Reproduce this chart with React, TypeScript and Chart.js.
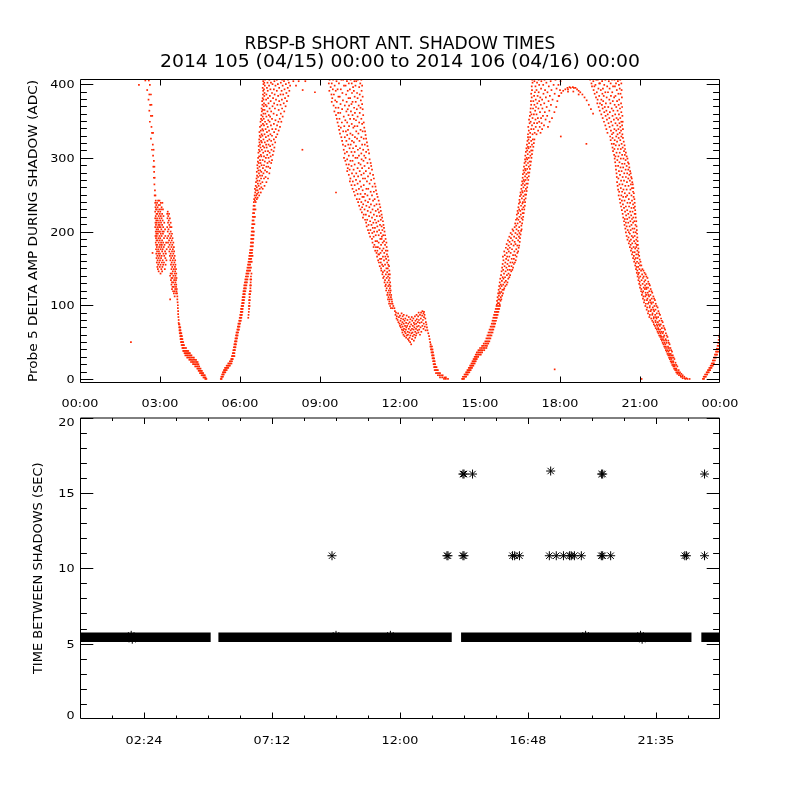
import React, { useEffect, useRef } from 'react';
import { Chart, registerables } from 'chart.js';

Chart.register(...registerables);

// ---------------- text ----------------
const TITLE_LINE_1 = 'RBSP-B SHORT ANT. SHADOW TIMES';
const TITLE_LINE_2 = '2014 105 (04/15) 00:00 to 2014 106 (04/16) 00:00';
const TOP_Y_TITLE = 'Probe 5 DELTA AMP DURING SHADOW (ADC)';
const BOTTOM_Y_TITLE = 'TIME BETWEEN SHADOWS (SEC)';

// ---------------- axes ----------------
const TOP_X_TICKS = [0, 3, 6, 9, 12, 15, 18, 21, 24];
const TOP_X_LABELS = ['00:00', '03:00', '06:00', '09:00', '12:00', '15:00', '18:00', '21:00', '00:00'];
const TOP_Y_TICKS = [0, 100, 200, 300, 400];
const TOP_Y_LABELS = ['0', '100', '200', '300', '400'];
const BOTTOM_X_TICKS = [2.4, 7.2, 12, 16.8, 21.6];
const BOTTOM_X_LABELS = ['02:24', '07:12', '12:00', '16:48', '21:35'];
const BOTTOM_Y_TICKS = [0, 5, 10, 15, 20];
const BOTTOM_Y_LABELS = ['0', '5', '10', '15', '20'];

// ---------------- top panel ----------------
// each row: [ADC value, hour, hour, ...] — the dots seen at that amplitude
const arcA: number[][] = [
  [50, 1.91], [171, 2.72],
  [405, 2.45, 2.58], [399, 2.21, 2.62], [392, 2.52], [386, 2.6, 2.66], [379, 2.57], [372, 2.63, 2.68], [364, 2.6],
  [357, 2.66, 2.71], [349, 2.62], [342, 2.68], [334, 2.7, 2.74], [326, 2.66], [318, 2.73], [311, 2.7, 2.76],
  [303, 2.74], [296, 2.77], [288, 2.75, 2.79], [281, 2.78], [273, 2.77, 2.8], [264, 2.79], [256, 2.81], [249, 2.8, 2.83],
  [242, 2.84, 2.93, 2.98], [239, 2.82, 2.89, 3.03, 3.09], [236, 2.86, 2.95, 3.0], [233, 2.83, 2.91, 3.06],
  [230, 2.85, 2.88, 2.97, 3.04, 3.11], [227, 2.82, 2.93, 3.01, 3.29], [224, 2.87, 2.9, 2.99, 3.08, 3.27, 3.34],
  [221, 2.84, 2.95, 3.03, 3.13, 3.31], [218, 2.82, 2.89, 2.98, 3.06, 3.28, 3.37], [215, 2.86, 2.92, 3.01, 3.1, 3.33],
  [212, 2.83, 2.88, 2.96, 3.04, 3.16, 3.3, 3.4], [209, 2.85, 2.94, 2.99, 3.08, 3.35],
  [206, 2.82, 2.9, 2.97, 3.02, 3.12, 3.27, 3.38, 3.43], [203, 2.87, 2.93, 3.05, 3.19, 3.32],
  [200, 2.84, 2.89, 2.96, 3.0, 3.09, 3.14, 3.29, 3.4], [197, 2.86, 2.92, 3.03, 3.11, 3.36, 3.45],
  [194, 2.83, 2.88, 2.98, 3.06, 3.2, 3.31, 3.42], [191, 2.85, 2.94, 3.01, 3.15, 3.27, 3.38, 3.47],
  [188, 2.87, 2.91, 2.99, 3.08, 3.34, 3.44], [185, 2.84, 2.95, 3.04, 3.12, 3.23, 3.3, 3.4, 3.5],
  [182, 2.86, 2.9, 3.0, 3.07, 3.17, 3.36, 3.46], [179, 2.88, 2.97, 3.05, 3.14, 3.32, 3.43, 3.52],
  [176, 2.85, 2.93, 3.02, 3.1, 3.25, 3.38, 3.48], [173, 2.89, 2.96, 3.08, 3.19, 3.35, 3.45, 3.53],
  [170, 2.86, 2.94, 3.0, 3.13, 3.22, 3.4, 3.5], [167, 2.9, 2.98, 3.06, 3.16, 3.37, 3.46, 3.55],
  [164, 2.87, 2.95, 3.04, 3.2, 3.42, 3.52], [161, 2.91, 3.0, 3.1, 3.24, 3.39, 3.48, 3.57],
  [158, 2.88, 2.97, 3.07, 3.15, 3.44, 3.54], [155, 2.93, 3.02, 3.12, 3.21, 3.41, 3.5, 3.58],
  [152, 2.9, 2.99, 3.09, 3.46, 3.56], [149, 2.92, 3.05, 3.18, 3.43, 3.52, 3.6], [146, 2.95, 3.08, 3.48, 3.57],
  [143, 3.02, 3.4, 3.45, 3.55, 3.61], [140, 3.38, 3.5, 3.58], [137, 3.43, 3.47, 3.56, 3.62], [134, 3.41, 3.53, 3.6],
  [131, 3.45, 3.5, 3.58], [128, 3.43, 3.55, 3.61], [125, 3.47, 3.52, 3.6], [122, 3.45, 3.57, 3.63],
  [119, 3.49, 3.55, 3.62], [116, 3.52, 3.6, 3.64], [112, 3.55, 3.65], [108, 3.38, 3.65],
  [104, 3.66], [100, 3.67], [96, 3.67], [92, 3.68], [88, 3.68], [84, 3.69], [80, 3.7], [76, 3.7],
  [74, 3.71, 3.73], [70, 3.72, 3.74, 3.76], [66, 3.73, 3.75, 3.77], [62, 3.74, 3.76, 3.78, 3.8],
  [58, 3.76, 3.78, 3.8, 3.82], [54, 3.77, 3.79, 3.82, 3.84], [50, 3.79, 3.81, 3.84, 3.87], [46, 3.81, 3.84, 3.87, 3.9],
  [42, 3.84, 3.87, 3.9, 3.94, 3.98], [38, 3.87, 3.9, 3.94, 3.98, 4.02, 4.06], [35, 3.92, 3.96, 4.0, 4.04, 4.08, 4.12],
  [32, 3.95, 4.0, 4.04, 4.09, 4.14, 4.18], [29, 4.02, 4.07, 4.12, 4.17, 4.22, 4.27],
  [26, 4.1, 4.15, 4.2, 4.25, 4.3, 4.35], [23, 4.16, 4.21, 4.26, 4.31, 4.36, 4.41], [20, 4.24, 4.29, 4.34, 4.39, 4.44],
  [17, 4.32, 4.37, 4.42, 4.47], [14, 4.4, 4.44, 4.48, 4.52], [11, 4.45, 4.49, 4.53, 4.57], [8, 4.5, 4.54, 4.58, 4.62],
  [5, 4.56, 4.6, 4.64, 4.68], [2, 4.63, 4.67, 4.71], [0, 4.7, 4.74],
];

const arcB: number[][] = [
  [0, 5.28, 5.31], [3, 5.3, 5.33, 5.36], [6, 5.33, 5.36, 5.39], [9, 5.36, 5.39, 5.42, 5.45], [12, 5.4, 5.43, 5.46, 5.5],
  [15, 5.44, 5.48, 5.52, 5.56], [18, 5.5, 5.54, 5.58, 5.62], [21, 5.56, 5.6, 5.64, 5.68], [24, 5.62, 5.66, 5.7],
  [27, 5.67, 5.7, 5.73], [31, 5.7, 5.73, 5.76, 5.79], [35, 5.73, 5.76, 5.79], [39, 5.75, 5.78, 5.81],
  [43, 5.77, 5.8, 5.83], [47, 5.79, 5.82, 5.85], [51, 5.81, 5.84, 5.87], [55, 5.83, 5.86, 5.89], [59, 5.85, 5.88, 5.91],
  [63, 5.87, 5.9, 5.93], [67, 5.9, 5.93, 5.96], [71, 5.92, 5.95, 5.98], [75, 5.94, 5.97, 6.0],
  [79, 5.97, 6.0, 6.03], [83, 5.99, 6.02, 6.05, 6.31], [87, 6.01, 6.04, 6.07, 6.32], [91, 6.03, 6.06, 6.09, 6.33],
  [95, 6.04, 6.07, 6.1, 6.34], [99, 6.06, 6.09, 6.12, 6.33, 6.36], [103, 6.08, 6.11, 6.14, 6.35],
  [107, 6.09, 6.12, 6.15, 6.34, 6.37], [111, 6.1, 6.13, 6.17, 6.36], [115, 6.12, 6.15, 6.18, 6.35, 6.38],
  [119, 6.13, 6.16, 6.2, 6.37, 6.4], [123, 6.15, 6.18, 6.22, 6.39], [127, 6.16, 6.2, 6.24, 6.38, 6.41],
  [131, 6.18, 6.22, 6.26, 6.4], [135, 6.2, 6.24, 6.28, 6.39, 6.42], [139, 6.22, 6.26, 6.3, 6.41],
  [143, 6.24, 6.28, 6.32, 6.43], [147, 6.26, 6.3, 6.34, 6.38],
  [151, 6.28, 6.32, 6.36, 6.41], [155, 6.3, 6.34, 6.38], [159, 6.32, 6.36, 6.4, 6.44], [163, 6.34, 6.38, 6.42],
  [167, 6.35, 6.39, 6.43, 6.47], [171, 6.37, 6.41, 6.45], [175, 6.38, 6.42, 6.46], [180, 6.4, 6.44, 6.48],
  [185, 6.41, 6.45, 6.49], [190, 6.42, 6.46, 6.5], [195, 6.43, 6.47, 6.51], [200, 6.44, 6.48, 6.52], [205, 6.45, 6.49],
  [210, 6.46, 6.5, 6.54], [215, 6.47, 6.51], [220, 6.48, 6.52, 6.56], [225, 6.49, 6.53], [230, 6.5, 6.54, 6.58],
  [235, 6.51, 6.55],
  [240, 6.52, 6.59], [242, 6.56], [244, 6.53, 6.63], [246, 6.58, 6.66], [249, 6.55, 6.61, 6.72], [251, 6.64],
  [253, 6.57, 6.69, 6.78], [256, 6.6, 6.66], [258, 6.56, 6.74, 6.85], [260, 6.63, 6.8], [262, 6.59, 6.7, 6.92],
  [265, 6.67, 6.77], [267, 6.6, 6.84, 6.99], [269, 6.65, 6.73], [272, 6.62, 6.79, 6.9, 7.05], [274, 6.68, 6.96],
  [276, 6.64, 6.75, 6.83], [279, 6.71, 6.88, 7.1], [281, 6.63, 6.8, 7.01], [283, 6.69, 6.76, 6.94],
  [286, 6.66, 6.86, 7.13], [288, 6.73, 6.99, 7.06], [290, 6.65, 6.81, 6.9], [293, 6.7, 6.77, 7.03, 7.17],
  [295, 6.67, 6.93, 7.1], [297, 6.75, 6.85, 7.2], [300, 6.68, 6.97, 7.07], [302, 6.72, 6.8, 6.9, 7.15],
  [304, 6.78, 7.02, 7.23], [307, 6.69, 6.87, 7.11], [309, 6.74, 6.95, 7.05, 7.26], [311, 6.71, 6.82, 7.18],
  [314, 6.77, 6.91, 7.0, 7.29], [316, 6.7, 6.86, 7.13], [318, 6.75, 6.98, 7.07, 7.22], [321, 6.73, 6.82, 6.93, 7.32],
  [323, 6.79, 7.03, 7.17], [325, 6.72, 6.88, 7.1, 7.27], [328, 6.77, 6.97, 7.35], [330, 6.74, 6.84, 7.06, 7.2],
  [332, 6.81, 6.92, 7.14, 7.4], [335, 6.73, 7.01, 7.28], [337, 6.78, 6.87, 7.09, 7.45], [339, 6.84, 6.96, 7.21, 7.34],
  [342, 6.75, 7.04, 7.5], [344, 6.8, 6.9, 7.16, 7.39], [346, 6.86, 7.0, 7.27], [349, 6.77, 6.94, 7.11, 7.44, 7.55],
  [351, 6.83, 7.06, 7.33], [353, 6.79, 6.89, 7.2, 7.49], [356, 6.85, 6.99, 7.13, 7.6], [358, 6.8, 7.08, 7.38],
  [360, 6.88, 6.95, 7.26, 7.53], [363, 6.82, 7.03, 7.17, 7.66], [365, 6.86, 6.92, 7.45], [367, 6.81, 7.11, 7.31, 7.58],
  [370, 6.89, 7.0, 7.22, 7.71], [372, 6.84, 6.96, 7.4, 7.52], [374, 6.9, 7.07, 7.28, 7.64], [377, 6.83, 7.15, 7.47, 7.76],
  [379, 6.88, 6.98, 7.35, 7.57], [381, 6.85, 7.05, 7.24, 7.69], [384, 6.91, 7.12, 7.43, 7.81],
  [386, 6.86, 6.99, 7.3, 7.52, 7.62], [388, 6.92, 7.2, 7.74], [391, 6.87, 7.04, 7.38, 7.56, 7.85],
  [393, 6.9, 7.14, 7.27, 7.67], [395, 6.85, 7.01, 7.47, 7.79], [398, 6.93, 7.09, 7.33, 7.6, 7.88],
  [400, 6.88, 7.22, 7.42, 7.72], [402, 6.91, 7.03, 7.16, 7.53, 7.83], [404, 6.87, 7.29, 7.65],
  [406, 6.94, 7.1, 7.38, 7.58, 7.8],
  [404, 8.0, 8.2, 8.45], [398, 8.1], [392, 8.35], [311, 8.34], [389, 8.81], [253, 9.6],
];

const arcC: number[][] = [
  [406, 9.36, 9.49, 9.8, 9.87, 10.15, 10.42, 10.55], [404, 9.62, 10.01, 10.29, 10.36],
  [401, 9.33, 9.44, 9.71, 10.08, 10.19, 10.51], [398, 9.55, 9.9, 9.96, 10.33, 10.58], [396, 9.4, 10.24, 10.47],
  [393, 9.48, 9.66, 9.78, 10.12], [391, 9.35, 9.59, 10.04, 10.27, 10.56], [388, 9.84, 10.2, 10.39],
  [386, 9.43, 9.52, 9.98, 10.49], [383, 9.69, 9.74, 10.3, 10.6], [381, 9.46, 10.07, 10.13, 10.41],
  [378, 9.57, 9.86, 10.53], [376, 9.44, 9.63, 10.0, 10.22, 10.34], [373, 9.77, 10.18, 10.58],
  [371, 9.51, 9.93, 10.09, 10.45], [368, 9.59, 9.69, 10.28, 10.52], [366, 9.83, 10.04, 10.38, 10.6],
  [363, 9.54, 9.99, 10.16], [361, 9.68, 9.76, 10.31, 10.49], [358, 9.6, 10.07, 10.22, 10.62], [356, 9.89, 10.41],
  [353, 9.63, 9.73, 10.13, 10.27, 10.55], [351, 9.95, 10.35], [348, 9.66, 9.82, 10.02, 10.47, 10.64],
  [346, 10.19, 10.58], [343, 9.7, 9.91, 10.09, 10.3, 10.4], [341, 9.78, 10.25, 10.66], [338, 9.72, 10.05, 10.52],
  [336, 9.87, 9.97, 10.36, 10.6, 10.69], [333, 9.75, 10.14, 10.44], [331, 10.02, 10.22, 10.71],
  [328, 9.8, 9.93, 10.31, 10.55], [326, 10.1, 10.39, 10.64, 10.73], [323, 9.83, 9.99, 10.2, 10.48],
  [321, 10.27, 10.76], [318, 9.86, 10.06, 10.15, 10.58, 10.68], [316, 9.95, 10.35, 10.78], [313, 10.11, 10.24, 10.5],
  [311, 9.89, 10.42, 10.62, 10.81], [308, 10.01, 10.18, 10.3, 10.73], [306, 9.93, 10.55, 10.84],
  [303, 10.08, 10.24, 10.46, 10.66],
  [300, 9.9, 10.33, 10.4, 10.71], [298, 10.02, 10.56, 10.86], [296, 9.95, 10.14, 10.22, 10.63],
  [293, 10.45, 10.78, 10.9], [291, 9.99, 10.08, 10.3, 10.52], [289, 10.18, 10.67, 10.92],
  [286, 10.04, 10.41, 10.58, 10.83], [284, 10.11, 10.26, 10.95], [282, 10.02, 10.49, 10.72],
  [279, 10.2, 10.36, 10.64, 10.88], [277, 10.08, 10.55, 10.99], [275, 10.28, 10.43, 10.8],
  [272, 10.14, 10.61, 10.69, 11.02], [270, 10.35, 10.92], [268, 10.12, 10.23, 10.5, 10.76],
  [265, 10.41, 10.86, 11.05], [263, 10.18, 10.3, 10.64], [261, 10.54, 10.97, 11.08],
  [258, 10.22, 10.46, 10.74, 10.81], [256, 10.36, 10.6, 11.1], [254, 10.27, 10.9, 11.02],
  [251, 10.41, 10.52, 10.69, 11.13], [249, 10.31, 10.78, 10.95], [247, 10.59, 10.64, 11.16],
  [244, 10.38, 10.48, 10.86, 11.05], [242, 10.7, 10.99, 11.2], [240, 10.43, 10.55, 10.8],
  [237, 10.62, 10.91, 11.12, 11.23], [235, 10.47, 10.74, 11.04], [233, 10.58, 10.85, 11.26],
  [230, 10.52, 10.67, 10.97, 11.17], [228, 10.79, 11.09, 11.28], [226, 10.57, 10.9, 11.21],
  [223, 10.64, 10.72, 11.02, 11.31], [221, 10.84, 11.13, 11.24], [219, 10.61, 10.95, 11.33],
  [216, 10.69, 10.77, 11.06, 11.28], [214, 10.88, 11.19, 11.36], [212, 10.73, 11.0, 11.11],
  [209, 10.82, 10.93, 11.25, 11.38], [207, 10.75, 11.15, 11.31], [205, 10.98, 11.06, 11.4],
  [202, 10.8, 10.89, 11.22, 11.34], [200, 11.03, 11.14, 11.42], [198, 10.84, 10.96, 11.28],
  [195, 11.09, 11.2, 11.37, 11.44], [193, 10.88, 11.01, 11.32],
  [190, 10.95, 11.26, 11.31, 11.46], [187, 11.08, 11.14, 11.4], [185, 10.97, 11.2, 11.35, 11.49],
  [182, 11.04, 11.29, 11.44], [179, 11.01, 11.1, 11.17, 11.5], [177, 11.24, 11.38],
  [174, 11.07, 11.15, 11.33, 11.47, 11.53], [171, 11.12, 11.27, 11.41], [169, 11.19, 11.22, 11.51],
  [166, 11.14, 11.36, 11.45, 11.55], [163, 11.25, 11.3, 11.48], [161, 11.18, 11.4, 11.57],
  [158, 11.21, 11.28, 11.52], [155, 11.33, 11.44, 11.56], [153, 11.24, 11.37, 11.59], [150, 11.29, 11.49, 11.54],
  [147, 11.3, 11.42, 11.6], [145, 11.36, 11.52], [142, 11.34, 11.47, 11.57, 11.62], [139, 11.4, 11.55],
  [137, 11.37, 11.5, 11.61], [134, 11.44, 11.58], [131, 11.42, 11.53, 11.63], [128, 11.47, 11.6],
  [126, 11.45, 11.56, 11.64], [123, 11.5, 11.62], [120, 11.48, 11.58, 11.65], [117, 11.54, 11.63],
  [114, 11.52, 11.6, 11.67], [111, 11.57, 11.66], [108, 11.55, 11.62, 11.69], [105, 11.6, 11.7],
  [102, 11.59, 11.66, 11.72], [99, 11.63, 11.75], [96, 11.66, 11.72, 11.79],
  [92, 11.81, 12.84], [91, 12.9], [90, 11.85, 12.7, 12.79], [89, 11.93, 12.06, 12.88],
  [87, 11.83, 12.14, 12.62, 12.75, 12.92], [86, 12.0, 12.25, 12.83], [85, 11.88, 12.1, 12.56, 12.68],
  [84, 11.96, 12.33, 12.44, 12.9], [82, 11.87, 12.04, 12.2, 12.5, 12.78, 12.95], [81, 12.12, 12.39, 12.63],
  [80, 11.91, 12.28, 12.71, 12.86], [79, 12.02, 12.17, 12.46, 12.58], [77, 11.94, 12.09, 12.36, 12.67, 12.81, 12.97],
  [76, 12.23, 12.52, 12.74], [75, 11.98, 12.14, 12.31, 12.61, 12.89], [74, 12.06, 12.42, 12.55, 12.99],
  [72, 12.0, 12.19, 12.27, 12.48, 12.7, 12.84], [71, 12.1, 12.37, 12.64, 12.93], [70, 12.03, 12.24, 12.54, 12.77, 13.01],
  [68, 12.15, 12.33, 12.45, 12.6, 12.88], [67, 12.07, 12.22, 12.51, 12.72], [66, 12.12, 12.4, 12.66, 12.96, 13.03],
  [64, 12.18, 12.29, 12.57, 12.8], [63, 12.09, 12.35, 12.47, 12.69], [62, 12.21, 12.43, 12.62, 13.06],
  [60, 12.13, 12.3, 12.53, 12.75], [59, 12.26, 12.39, 12.6], [58, 12.17, 12.48, 13.09], [56, 12.23, 12.36, 12.57],
  [54, 12.3, 12.45, 13.11], [52, 12.33, 12.52], [50, 12.38, 13.13], [47, 12.42, 13.15],
  [44, 13.14, 13.17, 13.2], [40, 13.16, 13.19, 13.22], [36, 13.18, 13.21, 13.24], [32, 13.2, 13.23, 13.26],
  [28, 13.22, 13.25, 13.28], [24, 13.24, 13.27, 13.3], [20, 13.26, 13.29, 13.32], [16, 13.28, 13.31, 13.34, 13.37],
  [12, 13.3, 13.34, 13.38, 13.42], [8, 13.35, 13.4, 13.45, 13.5], [5, 13.42, 13.48, 13.54, 13.6],
  [2, 13.5, 13.58, 13.66, 13.72], [0, 13.65, 13.72, 13.8],
];

const arcD: number[][] = [
  [0, 14.33, 14.36, 14.4], [3, 14.36, 14.4, 14.44, 14.48], [6, 14.42, 14.46, 14.5, 14.54], [9, 14.48, 14.52, 14.56, 14.6],
  [12, 14.53, 14.57, 14.61, 14.65], [15, 14.58, 14.62, 14.66, 14.7], [18, 14.63, 14.67, 14.71, 14.75],
  [21, 14.68, 14.72, 14.76, 14.8], [24, 14.72, 14.76, 14.8, 14.84], [27, 14.76, 14.8, 14.84, 14.88],
  [30, 14.8, 14.84, 14.88, 14.93], [33, 14.84, 14.88, 14.93, 14.98, 15.03], [36, 14.88, 14.93, 14.98, 15.03, 15.08],
  [39, 14.94, 14.99, 15.04, 15.1, 15.16], [42, 15.0, 15.06, 15.12, 15.18, 15.24], [45, 15.08, 15.14, 15.2, 15.26],
  [48, 15.14, 15.2, 15.26, 15.31], [51, 15.2, 15.25, 15.3, 15.35], [55, 15.24, 15.29, 15.34, 15.39],
  [59, 15.28, 15.33, 15.38, 15.43], [63, 15.32, 15.37, 15.42, 15.47], [67, 15.36, 15.41, 15.46, 15.5],
  [71, 15.4, 15.45, 15.5, 15.54], [75, 15.44, 15.49, 15.53, 15.57], [79, 15.47, 15.52, 15.56, 15.6],
  [83, 15.5, 15.55, 15.59, 15.63], [87, 15.53, 15.58, 15.62, 15.66], [91, 15.56, 15.61, 15.65, 15.69],
  [95, 15.59, 15.64, 15.68, 15.72], [99, 15.62, 15.67, 15.71, 15.75],
  [101, 15.63, 15.74], [103, 15.67, 15.71], [106, 15.64, 15.77], [108, 15.69, 15.73, 15.8], [111, 15.66, 15.78],
  [113, 15.71, 15.83], [116, 15.68, 15.75, 15.86], [118, 15.73, 15.8], [121, 15.7, 15.84, 15.89], [123, 15.76, 15.91],
  [126, 15.72, 15.81, 15.95], [128, 15.78, 15.87, 16.0], [131, 15.74, 15.92, 16.03], [133, 15.82, 15.97],
  [136, 15.76, 15.88, 16.06], [138, 15.85, 15.94, 16.1], [141, 15.79, 16.01, 16.13], [143, 15.9, 16.07],
  [146, 15.81, 15.96, 16.17], [148, 15.87, 16.04, 16.12, 16.21], [151, 15.83, 15.99, 16.24],
  [153, 15.92, 16.09, 16.18], [156, 15.85, 16.03, 16.27], [158, 15.95, 16.14, 16.22, 16.31],
  [161, 15.88, 16.06, 16.34], [163, 15.98, 16.19, 16.27], [166, 15.86, 16.02, 16.1, 16.37],
  [168, 15.93, 16.24, 16.32], [171, 16.0, 16.15, 16.4], [173, 15.91, 16.08, 16.29, 16.43], [176, 16.04, 16.2, 16.36],
  [178, 15.97, 16.12, 16.45], [181, 16.07, 16.26, 16.4, 16.47], [183, 16.0, 16.17, 16.33], [186, 16.11, 16.3, 16.49],
  [188, 16.05, 16.22, 16.43], [191, 16.16, 16.36, 16.5], [193, 16.1, 16.28, 16.46], [196, 16.2, 16.4, 16.52],
  [198, 16.15, 16.33, 16.48], [201, 16.25, 16.44, 16.54], [203, 16.22, 16.37, 16.56],
  [206, 16.3, 16.47], [208, 16.36, 16.55], [211, 16.32, 16.41, 16.58], [213, 16.5], [216, 16.35, 16.44, 16.6],
  [218, 16.39, 16.56], [220, 16.48, 16.62], [223, 16.38, 16.53], [225, 16.43, 16.6, 16.64], [228, 16.41, 16.51],
  [230, 16.47, 16.58, 16.66], [233, 16.44, 16.63], [235, 16.54, 16.68], [238, 16.46, 16.59], [240, 16.5, 16.61, 16.69],
  [243, 16.48, 16.66], [245, 16.57, 16.71], [248, 16.5, 16.63], [250, 16.54, 16.69, 16.73], [253, 16.52, 16.6],
  [255, 16.58, 16.67, 16.75], [258, 16.55, 16.72], [260, 16.63, 16.77], [263, 16.56, 16.68], [265, 16.61, 16.74, 16.79],
  [268, 16.58, 16.66], [270, 16.64, 16.71, 16.81], [273, 16.6, 16.77], [275, 16.69, 16.83], [278, 16.61, 16.74],
  [280, 16.66, 16.8, 16.85], [283, 16.63, 16.71], [285, 16.69, 16.77, 16.87], [288, 16.65, 16.83], [290, 16.74, 16.89],
  [293, 16.67, 16.8], [295, 16.71, 16.86, 16.91], [298, 16.69, 16.77], [300, 16.75, 16.83, 16.93], [303, 16.7, 16.89],
  [305, 16.79, 16.95], [308, 16.72, 16.86], [310, 16.77, 16.92, 16.97], [313, 16.74, 16.82], [315, 16.8, 16.89, 17.0],
  [318, 16.76, 16.95], [320, 16.84, 17.02], [323, 16.78, 16.92], [325, 16.82, 16.98, 17.04], [328, 16.8, 16.88],
  [332, 16.8, 16.97, 17.12], [334, 16.88, 17.05, 17.27], [337, 16.83, 17.18], [339, 16.92, 17.01, 17.33],
  [342, 16.81, 17.09, 17.24, 17.55], [344, 16.95, 17.4], [347, 16.86, 17.03, 17.14, 17.31], [349, 16.9, 17.22, 17.61],
  [352, 16.84, 17.08, 17.46], [354, 16.97, 17.17, 17.29, 17.7], [357, 16.87, 17.36, 17.52], [359, 16.93, 17.02, 17.12],
  [362, 16.89, 17.25, 17.43, 17.79], [364, 17.07, 17.6], [367, 16.9, 16.99, 17.19, 17.34], [369, 17.1, 17.5, 17.86],
  [372, 16.92, 17.04, 17.28, 17.66], [374, 17.15, 17.41], [377, 16.91, 17.0, 17.22, 17.57, 17.9],
  [379, 17.09, 17.33, 17.72], [382, 16.94, 17.26, 17.47], [384, 17.03, 17.16, 17.62, 17.97], [387, 16.92, 17.38, 17.8],
  [389, 17.06, 17.2, 17.53], [392, 16.95, 17.12, 17.44, 17.68, 18.0], [394, 17.29, 17.87], [397, 16.94, 17.08, 17.58],
  [399, 17.22, 17.37, 17.76, 17.94], [402, 16.97, 17.14, 17.49], [404, 17.04, 17.3, 17.65, 18.02],
  [406, 16.96, 17.2, 17.42, 17.83],
  [329, 18.03], [13, 17.8], [319, 18.99],
  [384, 17.95], [388, 18.05], [391, 18.12], [393, 18.2, 18.3], [395, 18.28, 18.4], [396, 18.36, 18.48],
  [395, 18.52, 18.58], [393, 18.64], [391, 18.7], [389, 18.76], [386, 18.84], [382, 18.92], [378, 19.0], [372, 19.08],
  [366, 19.16], [360, 19.24], [390, 18.3, 18.5], [386, 18.7],
];

const arcE: number[][] = [
  [406, 19.13, 19.36, 19.42, 19.7, 19.95, 20.04, 20.26], [404, 19.25, 19.58, 19.83, 20.17],
  [401, 19.18, 19.47, 19.5, 19.9, 20.1, 20.3], [399, 19.33, 19.66, 20.21], [397, 19.2, 19.29, 19.77, 19.99, 20.06],
  [394, 19.44, 19.61, 19.86, 20.24], [392, 19.26, 19.53, 20.13, 20.31], [389, 19.38, 19.7, 19.8, 19.96],
  [387, 19.3, 19.59, 20.19, 20.27], [384, 19.47, 19.64, 19.91, 20.08], [382, 19.35, 19.75, 20.03, 20.32],
  [379, 19.41, 19.55, 19.85, 20.22], [377, 19.62, 19.98, 20.14], [374, 19.4, 19.5, 19.72, 19.89, 20.29],
  [372, 19.57, 20.05, 20.2], [369, 19.45, 19.68, 19.81, 20.11, 20.33], [367, 19.6, 19.94, 20.25],
  [364, 19.49, 19.74, 20.0, 20.16], [362, 19.66, 19.87, 20.3], [359, 19.55, 19.79, 20.07, 20.21],
  [357, 19.71, 19.97, 20.34], [354, 19.6, 19.85, 20.12, 20.26], [352, 19.76, 20.02, 20.18],
  [349, 19.65, 19.92, 20.3, 20.35], [347, 19.82, 20.08, 20.23], [344, 19.7, 19.97, 20.15, 20.33],
  [342, 19.86, 20.26], [339, 19.74, 20.04, 20.19, 20.36], [337, 19.91, 20.11, 20.29], [334, 19.78, 20.0, 20.24],
  [332, 19.95, 20.16, 20.34],
  [329, 19.88, 20.11, 20.3], [327, 19.97, 20.2, 20.36], [324, 19.9, 20.05, 20.26], [322, 20.14, 20.39],
  [319, 19.94, 20.02, 20.31], [317, 20.09, 20.22, 20.42], [314, 19.97, 20.35], [312, 20.04, 20.17, 20.28, 20.44],
  [309, 19.99, 20.4], [307, 20.12, 20.24, 20.47], [304, 20.03, 20.33, 20.43], [302, 20.08, 20.19, 20.5],
  [299, 20.05, 20.28, 20.38, 20.53], [297, 20.15, 20.46], [294, 20.07, 20.23, 20.55], [292, 20.33, 20.42, 20.58],
  [289, 20.09, 20.18, 20.5], [287, 20.27, 20.37, 20.6], [284, 20.1, 20.46, 20.56], [282, 20.21, 20.31, 20.63],
  [279, 20.12, 20.41, 20.52, 20.65], [277, 20.25, 20.6], [274, 20.13, 20.35, 20.47, 20.67], [272, 20.19, 20.56, 20.69],
  [269, 20.29, 20.4, 20.62], [267, 20.14, 20.51, 20.71], [264, 20.23, 20.34, 20.66, 20.73], [262, 20.16, 20.45, 20.57],
  [259, 20.28, 20.7, 20.75], [257, 20.18, 20.38, 20.5, 20.64], [254, 20.22, 20.33, 20.74], [252, 20.43, 20.6, 20.77],
  [249, 20.2, 20.3, 20.52, 20.68], [247, 20.37, 20.47, 20.76], [244, 20.24, 20.58, 20.79], [242, 20.32, 20.42, 20.7],
  [239, 20.26, 20.53, 20.63, 20.8], [237, 20.36, 20.74], [234, 20.29, 20.47, 20.59, 20.81], [232, 20.4, 20.68, 20.77],
  [229, 20.32, 20.52, 20.82], [227, 20.44, 20.63, 20.72], [224, 20.35, 20.56, 20.8, 20.83], [222, 20.48, 20.67],
  [219, 20.37, 20.6, 20.75, 20.84], [217, 20.43, 20.52, 20.7], [214, 20.4, 20.64, 20.79, 20.86],
  [212, 20.47, 20.56, 20.74], [209, 20.42, 20.68, 20.83], [207, 20.5, 20.61, 20.87], [204, 20.45, 20.72, 20.79],
  [202, 20.54, 20.65, 20.88], [199, 20.47, 20.58, 20.76, 20.84], [197, 20.62, 20.89], [194, 20.5, 20.69, 20.8],
  [192, 20.57, 20.74, 20.9], [189, 20.53, 20.66, 20.86], [187, 20.61, 20.78, 20.91], [184, 20.58, 20.71, 20.83],
  [182, 20.65, 20.88, 20.92], [179, 20.62, 20.76, 20.86], [177, 20.69, 20.82, 20.94], [174, 20.66, 20.9],
  [172, 20.73, 20.8, 20.95], [169, 20.7, 20.86, 20.93], [167, 20.77, 20.97], [164, 20.74, 20.84, 20.91],
  [162, 20.8, 20.99], [159, 20.78, 20.89, 21.02], [157, 20.84, 20.95], [154, 20.82, 21.0, 21.05], [152, 20.87, 20.93],
  [149, 20.85, 20.98, 21.09], [147, 20.9, 21.04, 21.13], [144, 20.88, 20.96, 21.17], [142, 20.93, 21.08, 21.21],
  [139, 20.91, 21.01, 21.14, 21.24], [137, 20.96, 21.11, 21.28], [134, 20.94, 21.06, 21.2], [132, 20.99, 21.16, 21.31],
  [129, 20.97, 21.1, 21.25, 21.34], [127, 21.02, 21.19, 21.37], [124, 21.0, 21.14, 21.23, 21.3],
  [122, 21.05, 21.18, 21.24, 21.4], [119, 21.04, 21.12, 21.35, 21.43], [117, 21.09, 21.21, 21.29, 21.46],
  [114, 21.07, 21.23, 21.31, 21.39], [112, 21.13, 21.2, 21.34, 21.5], [109, 21.11, 21.28, 21.44, 21.53],
  [107, 21.17, 21.26, 21.38, 21.56], [104, 21.15, 21.33, 21.41, 21.49], [102, 21.22, 21.3, 21.43, 21.59],
  [99, 21.2, 21.37, 21.54, 21.62], [97, 21.27, 21.36, 21.48, 21.66], [94, 21.25, 21.42, 21.5, 21.58],
  [92, 21.32, 21.4, 21.53, 21.69], [89, 21.3, 21.47, 21.63, 21.72], [87, 21.37, 21.46, 21.57, 21.75],
  [84, 21.35, 21.52, 21.6, 21.68], [82, 21.42, 21.51, 21.62, 21.79], [79, 21.46, 21.58, 21.73, 21.82],
  [77, 21.5, 21.59, 21.67, 21.85], [74, 21.52, 21.63, 21.71, 21.78], [72, 21.56, 21.65, 21.74, 21.88],
  [69, 21.59, 21.68, 21.82, 21.91], [67, 21.63, 21.7, 21.76, 21.94], [64, 21.66, 21.73, 21.8, 21.87],
  [62, 21.69, 21.77, 21.85, 21.97], [59, 21.72, 21.78, 21.91, 22.0], [57, 21.76, 21.82, 21.89, 22.03],
  [54, 21.79, 21.86, 21.96], [52, 21.82, 21.9, 21.98, 22.06], [49, 21.85, 21.92, 22.0, 22.08], [47, 21.88, 21.95, 22.11],
  [44, 21.91, 21.97, 22.05], [42, 21.94, 22.01, 22.08, 22.14], [39, 21.97, 22.03, 22.1, 22.17], [37, 22.0, 22.07, 22.2],
  [34, 22.03, 22.09, 22.15], [32, 22.06, 22.12, 22.18, 22.23], [29, 22.09, 22.14, 22.2, 22.26], [27, 22.12, 22.18, 22.29],
  [24, 22.15, 22.2, 22.25], [22, 22.18, 22.24, 22.33], [19, 22.21, 22.26, 22.3, 22.36], [17, 22.25, 22.3, 22.4],
  [14, 22.28, 22.33, 22.36], [12, 22.32, 22.38, 22.45], [9, 22.36, 22.41, 22.44, 22.5], [7, 22.4, 22.47, 22.55],
  [5, 22.46, 22.52, 22.6], [3, 22.53, 22.58, 22.66], [1, 22.6, 22.67, 22.74], [0, 22.7, 22.78, 22.86, 21.06],
];

const arcF: number[][] = [
  [0, 23.36, 23.4], [3, 23.39, 23.43, 23.47], [6, 23.44, 23.48, 23.52], [9, 23.5, 23.54, 23.58],
  [12, 23.55, 23.59, 23.63], [15, 23.6, 23.64, 23.68], [18, 23.65, 23.69, 23.73], [21, 23.69, 23.73, 23.77],
  [25, 23.73, 23.77, 23.81], [29, 23.77, 23.81, 23.85], [33, 23.81, 23.85, 23.89], [37, 23.85, 23.89, 23.93],
  [41, 23.88, 23.92, 23.96], [45, 23.91, 23.95, 23.99], [49, 23.93, 23.97], [53, 23.95, 23.99], [57, 23.97], [61, 23.99],
];

// ---------------- bottom panel ----------------
// continuous runs of single-period shadows: [start hour, end hour]
const singleRuns: number[][] = [[0, 4.9], [5.19, 13.94], [14.29, 22.93], [23.3, 24]];
const singlePeriod = 5.42;
// individual asterisks: [hour, seconds]
const singleOutliers: number[][] = [
  [1.92, 5.55], [1.96, 5.29], [9.6, 5.55], [11.64, 5.55], [18.96, 5.55], [21.02, 5.55], [21.08, 5.29],
];
const doubleGaps: number[][] = [
  [9.45, 10.83], [13.76, 10.83], [13.8, 10.83], [14.36, 10.83], [14.4, 10.83], [16.22, 10.83], [16.3, 10.83],
  [16.48, 10.83], [17.6, 10.83], [17.86, 10.83], [18.13, 10.83], [18.36, 10.83], [18.42, 10.83], [18.54, 10.83],
  [18.8, 10.83], [19.55, 10.83], [19.6, 10.83], [19.9, 10.83], [22.68, 10.83], [22.74, 10.83], [23.42, 10.83],
];
const tripleGaps: number[][] = [
  [14.36, 16.25], [14.4, 16.25], [14.72, 16.25], [17.65, 16.45], [19.56, 16.25], [19.6, 16.25], [23.42, 16.25],
];

// ---------------- drawing helpers ----------------
const FONT = '"DejaVu Sans", "Liberation Sans", sans-serif';
const RED = '#ff2600';

function drawText(
  ctx: CanvasRenderingContext2D, s: string, x: number, y: number, size: number,
  align: CanvasTextAlign, sx: number, rotate = false,
) {
  ctx.save();
  ctx.translate(x, y);
  if (rotate) ctx.rotate(-Math.PI / 2);
  ctx.scale(sx, 1);
  ctx.font = `${size}px ${FONT}`;
  ctx.textAlign = align;
  ctx.textBaseline = 'alphabetic';
  ctx.fillStyle = '#000';
  ctx.fillText(s, 0, 0);
  ctx.restore();
}

type FrameSpec = {
  xMajor: number[]; xMajorLen: number; xMinorStep: number; xMinorLen: number;
  xLabelTicks: number[]; xLabels: string[]; xLabelBaseline: number;
  yMajor: number[]; yMajorLen: number; yMinorStep: number; yMinorLen: number;
  yLabels: string[]; yLabelRight: number; yLabelInset: number;
  yTitle: string; yTitleBaselineX: number; yTitleSx: number;
  titles?: { text: string; baseline: number; sx: number; size: number }[];
};

function framePlugin(f: FrameSpec) {
  return {
    id: 'idlFrame',
    afterDraw(chart: any) {
      const ctx: CanvasRenderingContext2D = chart.ctx;
      const a = chart.chartArea;
      const xs = chart.scales.x;
      const ys = chart.scales.y;
      const L = a.left + 0.5, R = a.right - 0.5, T = a.top + 0.5, B = a.bottom - 0.5;
      ctx.save();
      ctx.strokeStyle = '#000';
      ctx.lineWidth = 1;
      ctx.beginPath();
      ctx.rect(L, T, R - L, B - T);
      const px = (v: number) => Math.round(xs.getPixelForValue(v)) + 0.5;
      const py = (v: number) => Math.round(ys.getPixelForValue(v)) + 0.5;
      const xTick = (v: number, len: number) => {
        const p = px(v);
        if (p <= L || p >= R) return;
        ctx.moveTo(p, B); ctx.lineTo(p, B - len);
        ctx.moveTo(p, T); ctx.lineTo(p, T + len);
      };
      const yTick = (v: number, len: number) => {
        const p = py(v);
        if (p <= T || p >= B) return;
        ctx.moveTo(L, p); ctx.lineTo(L + len, p);
        ctx.moveTo(R, p); ctx.lineTo(R - len, p);
      };
      f.xMajor.forEach((v) => xTick(v, f.xMajorLen));
      if (f.xMinorStep > 0) {
        for (let v = xs.min + f.xMinorStep; v < xs.max - 1e-6; v += f.xMinorStep) {
          if (!f.xMajor.some((m) => Math.abs(m - v) < 1e-6)) xTick(v, f.xMinorLen);
        }
      }
      f.yMajor.forEach((v) => yTick(v, f.yMajorLen));
      if (f.yMinorStep > 0) {
        const start = Math.ceil(ys.min / f.yMinorStep) * f.yMinorStep;
        for (let v = start; v <= ys.max + 1e-6; v += f.yMinorStep) {
          if (!f.yMajor.some((m) => Math.abs(m - v) < 1e-6)) yTick(v, f.yMinorLen);
        }
      }
      ctx.stroke();

      f.xLabelTicks.forEach((v, i) => {
        drawText(ctx, f.xLabels[i], xs.getPixelForValue(v), f.xLabelBaseline, 11, 'center', 1.16);
      });
      f.yMajor.forEach((v, i) => {
        let c = ys.getPixelForValue(v);
        c = Math.min(Math.max(c, a.top + f.yLabelInset), a.bottom - f.yLabelInset);
        drawText(ctx, f.yLabels[i], f.yLabelRight, c + 4, 11, 'right', 1.16);
      });
      drawText(ctx, f.yTitle, f.yTitleBaselineX, (a.top + a.bottom) / 2, 13, 'center', f.yTitleSx, true);
      (f.titles || []).forEach((t) => {
        drawText(ctx, t.text, (a.left + a.right) / 2, t.baseline, t.size, 'center', t.sx);
      });
      ctx.restore();
    },
  };
}

const rowsToXY = (rows: number[][]) =>
  rows.flatMap(([v, ...hours]) => hours.map((h) => ({ x: h, y: v })));
const pairsToXY = (arr: number[][]) => arr.map(([x, y]) => ({ x, y }));

function TopPanel() {
  const ref = useRef<HTMLCanvasElement>(null);
  useEffect(() => {
    const arcs = [arcA, arcB, arcC, arcD, arcE, arcF];
    const chart = new Chart(ref.current as HTMLCanvasElement, {
      type: 'scatter',
      data: {
        datasets: arcs.map((arc) => ({
          data: rowsToXY(arc),
          pointStyle: 'rect',
          pointRadius: 1.2,
          pointBorderWidth: 0,
          pointBackgroundColor: RED,
          backgroundColor: RED,
          borderColor: RED,
        })),
      },
      options: {
        animation: false,
        responsive: false,
        devicePixelRatio: 1,
        events: [],
        layout: { padding: { left: 80, right: 80, top: 79, bottom: 29 } },
        plugins: { legend: { display: false }, tooltip: { enabled: false }, title: { display: false } },
        scales: {
          x: { type: 'linear', min: 0, max: 24, display: false },
          y: { type: 'linear', min: -5.5, max: 407, display: false },
        },
      },
      plugins: [framePlugin({
        xMajor: TOP_X_TICKS, xMajorLen: 6, xMinorStep: 0, xMinorLen: 0,
        xLabelTicks: TOP_X_TICKS, xLabels: TOP_X_LABELS, xLabelBaseline: 407,
        yMajor: TOP_Y_TICKS, yMajorLen: 12.8, yMinorStep: 10, yMinorLen: 6.4,
        yLabels: TOP_Y_LABELS, yLabelRight: 74.5, yLabelInset: 0,
        yTitle: TOP_Y_TITLE, yTitleBaselineX: 37, yTitleSx: 1.05,
        titles: [
          { text: TITLE_LINE_1, baseline: 48.5, sx: 1.02, size: 16.8 },
          { text: TITLE_LINE_2, baseline: 67, sx: 1.12, size: 16.8 },
        ],
      }) as any],
    } as any);
    return () => chart.destroy();
  }, []);
  return <canvas ref={ref} width={800} height={412} style={{ display: 'block' }} />;
}

function BottomPanel() {
  const ref = useRef<HTMLCanvasElement>(null);
  useEffect(() => {
    const runData: any[] = [];
    singleRuns.forEach(([s, e]) => {
      runData.push({ x: s, y: singlePeriod }, { x: e, y: singlePeriod }, { x: e, y: null });
    });
    const stars = [...singleOutliers, ...doubleGaps, ...tripleGaps];
    const chart = new Chart(ref.current as HTMLCanvasElement, {
      type: 'scatter',
      data: {
        datasets: [
          {
            type: 'line',
            data: runData,
            borderColor: '#000',
            borderWidth: 9.4,
            borderCapStyle: 'butt',
            pointRadius: 0,
            spanGaps: false,
            tension: 0,
            fill: false,
          },
          {
            data: pairsToXY(stars),
            pointStyle: 'star',
            pointRadius: 4.5,
            pointBorderWidth: 1,
            pointBorderColor: '#000',
            pointBackgroundColor: 'rgba(0,0,0,0)',
            borderColor: '#000',
          },
        ],
      },
      options: {
        animation: false,
        responsive: false,
        devicePixelRatio: 1,
        events: [],
        layout: { padding: { left: 80, right: 80, top: 5, bottom: 81 } },
        plugins: { legend: { display: false }, tooltip: { enabled: false }, title: { display: false } },
        scales: {
          x: { type: 'linear', min: 0, max: 24, display: false },
          y: { type: 'linear', min: 0, max: 20, display: false },
        },
      },
      plugins: [framePlugin({
        xMajor: BOTTOM_X_TICKS, xMajorLen: 6, xMinorStep: 1.2, xMinorLen: 3,
        xLabelTicks: BOTTOM_X_TICKS, xLabels: BOTTOM_X_LABELS, xLabelBaseline: 331.5,
        yMajor: BOTTOM_Y_TICKS, yMajorLen: 12.8, yMinorStep: 1, yMinorLen: 6.4,
        yLabels: BOTTOM_Y_LABELS, yLabelRight: 74.5, yLabelInset: 4.5,
        yTitle: BOTTOM_Y_TITLE, yTitleBaselineX: 42, yTitleSx: 1.0,
      }) as any],
    } as any);
    return () => chart.destroy();
  }, []);
  return <canvas ref={ref} width={800} height={388} style={{ display: 'block' }} />;
}

export default function App() {
  return (
    <div style={{ position: 'absolute', left: 0, top: 0, width: 800, height: 800, background: '#fff' }}>
      <TopPanel />
      <BottomPanel />
    </div>
  );
}
